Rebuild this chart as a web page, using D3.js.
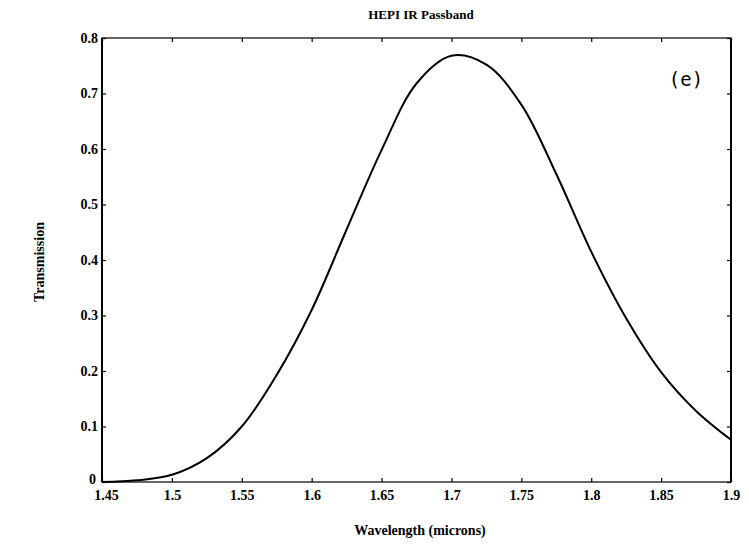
<!DOCTYPE html>
<html><head><meta charset="utf-8">
<script src="https://cdn.jsdelivr.net/npm/d3@7/dist/d3.min.js"></script>
<style>body{margin:0;background:#fff}</style>
</head><body>
<script>
const wavelength = [1.45,1.475,1.5,1.525,1.55,1.575,1.6,1.625,1.65,1.675,1.7,1.725,1.75,1.775,1.8,1.825,1.85,1.875,1.9];
const transmission = [0.0,0.003,0.013,0.043,0.10,0.193,0.31,0.455,0.598,0.718,0.768,0.752,0.68,0.555,0.415,0.295,0.198,0.128,0.076];
const xTicks = [1.45,1.5,1.55,1.6,1.65,1.7,1.75,1.8,1.85,1.9];
const xTickLabels = ["1.45","1.5","1.55","1.6","1.65","1.7","1.75","1.8","1.85","1.9"];
const yTicks = [0,0.1,0.2,0.3,0.4,0.5,0.6,0.7,0.8];
const yTickLabels = ["0","0.1","0.2","0.3","0.4","0.5","0.6","0.7","0.8"];

const W=749,H=544;
const L=102,R=731,T=38,B=482;
const svg=d3.select("body").append("svg").attr("width",W).attr("height",H);
const x=d3.scaleLinear().domain([1.45,1.9]).range([L,R]);
const y=d3.scaleLinear().domain([0,0.8]).range([B,T]);
const font="'Liberation Serif', 'Times New Roman', serif";

// frame
svg.append("rect").attr("x",L).attr("y",T).attr("width",R-L).attr("height",B-T)
  .attr("fill","none").attr("stroke","#000").attr("stroke-width",1.2);
svg.append("line").attr("x1",L).attr("x2",L).attr("y1",T).attr("y2",B).attr("stroke","#000").attr("stroke-width",2);
svg.append("line").attr("x1",R).attr("x2",R).attr("y1",T).attr("y2",B).attr("stroke","#000").attr("stroke-width",2);

// axes
const xb=svg.append("g").attr("transform",`translate(0,${B})`)
  .call(d3.axisBottom(x).tickValues(xTicks).tickSize(-4).tickPadding(8).tickFormat((d,i)=>xTickLabels[i]));
const xt=svg.append("g").attr("transform",`translate(0,${T})`)
  .call(d3.axisTop(x).tickValues(xTicks).tickSize(-4).tickFormat(""));
const yl=svg.append("g").attr("transform",`translate(${L},0)`)
  .call(d3.axisLeft(y).tickValues(yTicks).tickSize(-4).tickPadding(7).tickFormat((d,i)=>yTickLabels[i]));
const yr=svg.append("g").attr("transform",`translate(${R},0)`)
  .call(d3.axisRight(y).tickValues(yTicks).tickSize(-4).tickFormat(""));
[xb,xt,yl,yr].forEach(g=>{
  g.select(".domain").remove();
  g.selectAll(".tick line").attr("stroke","#000").attr("stroke-width",1.2);
  g.selectAll("text").attr("font-family",font).attr("font-weight","bold").attr("font-size",14).attr("fill","#000");
});
yl.selectAll("text").attr("dx",3);
yl.selectAll(".tick").filter(d=>d===0).select("text").attr("dy","0.1em").attr("dx",1);
xb.selectAll(".tick").filter(d=>d===1.45).select("text").attr("dx",4);

// curve
const pts=wavelength.map((w,i)=>[w,transmission[i]]);
svg.append("path").datum(pts)
  .attr("d",d3.line().x(d=>x(d[0])).y(d=>y(d[1])).curve(d3.curveCatmullRom.alpha(0.5)))
  .attr("fill","none").attr("stroke","#000").attr("stroke-width",2);

// texts
svg.append("text").attr("x",421).attr("y",19).attr("text-anchor","middle")
  .attr("font-family",font).attr("font-weight","bold").attr("font-size",13).text("HEPI IR Passband");
svg.append("text").attr("x",420).attr("y",535).attr("text-anchor","middle")
  .attr("font-family",font).attr("font-weight","bold").attr("font-size",14).text("Wavelength (microns)");
svg.append("text").attr("transform","translate(44,262) rotate(-90)").attr("text-anchor","middle")
  .attr("font-family",font).attr("font-weight","bold").attr("font-size",14).text("Transmission");
svg.append("text").attr("x",686).attr("y",86).attr("text-anchor","middle")
  .attr("font-family","'DejaVu Sans Mono', monospace").attr("font-size",19).text("(e)");
</script>
</body></html>
